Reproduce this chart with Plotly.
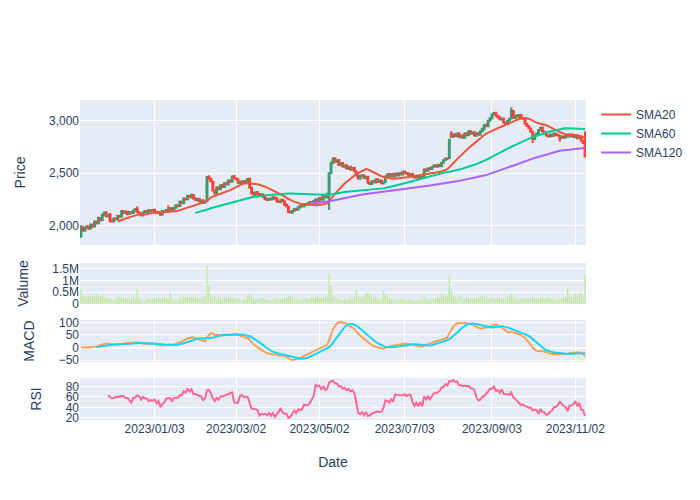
import pandas as pd
import plotly.graph_objects as go
from plotly.subplots import make_subplots

start_date = "2022-11-10"

open_ = [
    1900, 1988, 1952, 1980, 1993, 1972, 2008, 1993, 2037, 2023, 2072, 2053, 2102, 2128, 2088,
    2105, 2048, 2043, 2068, 2062, 2092, 2088, 2137, 2122, 2133, 2112, 2128, 2122, 2143, 2162, 2128, 2117, 2098, 2127, 2138, 2127, 2148,
    2142, 2152, 2133, 2122, 2128, 2107, 2138, 2132, 2148, 2137, 2168, 2143, 2172, 2193, 2187, 2228, 2217, 2258, 2252, 2283, 2272, 2293,
    2262, 2243, 2257, 2228, 2242, 2218, 2232, 2462, 2448, 2422, 2338, 2308, 2367, 2348, 2387, 2368, 2407, 2393, 2432, 2418,
    2473, 2453, 2442, 2408, 2422, 2403, 2427, 2413, 2447, 2362, 2312, 2293, 2322, 2303, 2292, 2298, 2272, 2253, 2247, 2258, 2252, 2268, 2262,
    2232, 2223, 2247, 2233, 2202, 2183, 2132, 2123, 2142, 2158, 2152, 2173, 2192, 2183, 2207, 2198, 2217, 2223, 2222, 2233,
    2252, 2238, 2267, 2248, 2287, 2268, 2310, 2505, 2598, 2643, 2608, 2627, 2578, 2597, 2563, 2577, 2543, 2562, 2533, 2552, 2518, 2478, 2448,
    2473, 2482, 2453, 2467, 2408, 2398, 2427, 2413, 2442, 2418, 2432, 2403, 2417, 2468, 2492, 2473, 2492, 2468, 2497, 2478, 2502, 2488,
    2517, 2503, 2497, 2478, 2492, 2468, 2462, 2472, 2453, 2472, 2468, 2537, 2523, 2547, 2538, 2562, 2577, 2563, 2582, 2568, 2602,
    2627, 2642, 2645, 2875, 2848, 2872, 2853, 2882, 2843, 2862, 2838, 2882, 2863, 2902, 2878, 2892, 2858, 2882, 2868, 2902, 2923, 2962, 2948,
    3003, 3023, 3062, 3077, 3048, 3037, 3013, 3022, 2983, 2977, 3002, 3022, 3095, 3028, 3052, 3038, 3057, 3028, 3022, 2973, 2952,
    2928, 2897, 2828, 2867, 2878, 2912, 2937, 2898, 2887, 2858, 2852, 2868, 2857, 2878, 2867, 2858, 2837, 2848, 2842, 2858, 2852, 2868,
    2857, 2843, 2862, 2833, 2852, 2808, 2830,
]

high = [
    2005, 1998, 1988, 2005, 2000, 2020, 2015, 2048, 2045, 2082, 2080, 2112, 2135, 2135, 2108,
    2120, 2058, 2078, 2075, 2102, 2100, 2148, 2145, 2142, 2140, 2138, 2135, 2152, 2168, 2185, 2135, 2122, 2132, 2148, 2145, 2158, 2155,
    2158, 2160, 2140, 2138, 2135, 2148, 2145, 2158, 2195, 2172, 2175, 2178, 2202, 2200, 2238, 2235, 2268, 2265, 2292, 2290, 2302, 2300,
    2270, 2262, 2265, 2248, 2250, 2238, 2475, 2480, 2458, 2430, 2345, 2372, 2375, 2392, 2395, 2412, 2415, 2438, 2440, 2478,
    2482, 2460, 2450, 2428, 2430, 2432, 2435, 2452, 2455, 2370, 2318, 2328, 2330, 2310, 2308, 2305, 2280, 2260, 2268, 2265, 2278, 2275, 2268,
    2240, 2252, 2255, 2240, 2210, 2190, 2140, 2148, 2168, 2165, 2182, 2198, 2200, 2212, 2214, 2222, 2232, 2230, 2242, 2258,
    2260, 2272, 2275, 2292, 2294, 2312, 2510, 2610, 2650, 2652, 2632, 2634, 2602, 2604, 2582, 2584, 2567, 2569, 2557, 2559, 2525, 2485, 2482,
    2488, 2490, 2472, 2474, 2415, 2432, 2434, 2448, 2450, 2437, 2440, 2422, 2478, 2498, 2500, 2497, 2499, 2502, 2504, 2508, 2510, 2522,
    2524, 2510, 2504, 2497, 2499, 2475, 2477, 2479, 2477, 2479, 2542, 2544, 2552, 2554, 2567, 2582, 2584, 2587, 2589, 2607, 2632,
    2648, 2650, 2830, 2900, 2878, 2880, 2888, 2890, 2868, 2870, 2888, 2890, 2908, 2910, 2898, 2900, 2888, 2890, 2908, 2932, 2968, 2970, 3008,
    3032, 3068, 3085, 3084, 3055, 3044, 3028, 3030, 2990, 3008, 3028, 3130, 3104, 3058, 3060, 3063, 3064, 3036, 3030, 2980, 2958,
    2935, 2904, 2872, 2887, 2917, 2944, 2945, 2905, 2894, 2865, 2877, 2875, 2887, 2885, 2874, 2865, 2857, 2855, 2867, 2865, 2877, 2875,
    2864, 2867, 2869, 2857, 2859, 2815, 2900,
]

low = [
    1885, 1948, 1945, 1972, 1962, 1965, 1982, 1985, 2012, 2018, 2042, 2048, 2095, 2082, 2080,
    2030, 2032, 2036, 2052, 2055, 2078, 2082, 2112, 2115, 2102, 2105, 2112, 2115, 2136, 2122, 2108, 2092, 2090, 2120, 2118, 2120, 2132,
    2135, 2128, 2112, 2115, 2098, 2100, 2122, 2125, 2128, 2130, 2138, 2136, 2165, 2178, 2180, 2208, 2210, 2242, 2245, 2262, 2265, 2252,
    2238, 2236, 2222, 2220, 2212, 2210, 2225, 2438, 2415, 2325, 2298, 2300, 2342, 2340, 2362, 2360, 2388, 2386, 2412, 2410,
    2448, 2432, 2402, 2400, 2396, 2396, 2408, 2406, 2355, 2300, 2285, 2286, 2296, 2282, 2285, 2262, 2248, 2238, 2240, 2242, 2245, 2252, 2222,
    2218, 2215, 2228, 2192, 2178, 2122, 2115, 2116, 2135, 2142, 2145, 2166, 2178, 2176, 2192, 2190, 2210, 2212, 2215, 2226,
    2232, 2230, 2242, 2240, 2262, 2260, 2150, 2492, 2590, 2600, 2600, 2572, 2570, 2556, 2556, 2536, 2536, 2528, 2526, 2512, 2470, 2440, 2440,
    2466, 2448, 2446, 2400, 2385, 2390, 2408, 2406, 2412, 2410, 2398, 2396, 2410, 2460, 2468, 2466, 2462, 2460, 2472, 2470, 2482, 2480,
    2498, 2488, 2472, 2471, 2462, 2452, 2455, 2447, 2446, 2458, 2460, 2518, 2516, 2532, 2531, 2555, 2558, 2556, 2562, 2561, 2594,
    2620, 2628, 2638, 2840, 2840, 2846, 2846, 2836, 2836, 2830, 2830, 2856, 2856, 2872, 2870, 2850, 2850, 2862, 2860, 2895, 2916, 2942, 2940,
    2996, 3016, 3055, 3042, 3028, 3008, 3006, 2976, 2966, 2970, 2995, 3015, 3022, 3021, 3032, 3031, 3022, 3012, 2966, 2942, 2922,
    2887, 2790, 2820, 2860, 2870, 2905, 2892, 2877, 2852, 2842, 2845, 2848, 2850, 2858, 2852, 2800, 2830, 2832, 2835, 2842, 2845, 2848,
    2838, 2836, 2828, 2826, 2802, 2782, 2650,
]

close = [
    1985, 1955, 1978, 1995, 1970, 2010, 1990, 2040, 2020, 2075, 2050, 2105, 2125, 2090, 2100,
    2050, 2040, 2070, 2060, 2095, 2085, 2140, 2120, 2135, 2110, 2130, 2120, 2145, 2160, 2130, 2115, 2100, 2125, 2140, 2125, 2150, 2140,
    2150, 2135, 2120, 2130, 2105, 2140, 2130, 2150, 2135, 2165, 2145, 2170, 2195, 2185, 2230, 2215, 2260, 2250, 2285, 2270, 2295, 2260,
    2245, 2255, 2230, 2240, 2220, 2230, 2460, 2450, 2425, 2335, 2310, 2365, 2350, 2385, 2370, 2405, 2395, 2430, 2420, 2470,
    2455, 2440, 2410, 2420, 2405, 2425, 2415, 2445, 2365, 2310, 2295, 2320, 2305, 2290, 2300, 2270, 2255, 2245, 2260, 2250, 2270, 2260, 2230,
    2225, 2245, 2235, 2200, 2185, 2130, 2125, 2140, 2160, 2150, 2175, 2190, 2185, 2205, 2200, 2215, 2225, 2220, 2235, 2250,
    2240, 2265, 2250, 2285, 2270, 2305, 2500, 2600, 2640, 2610, 2625, 2580, 2595, 2565, 2575, 2545, 2560, 2535, 2550, 2520, 2480, 2450, 2475,
    2480, 2455, 2465, 2410, 2400, 2425, 2415, 2440, 2420, 2430, 2405, 2415, 2470, 2490, 2475, 2490, 2470, 2495, 2480, 2500, 2490, 2515,
    2505, 2495, 2480, 2490, 2470, 2460, 2470, 2455, 2470, 2465, 2535, 2525, 2545, 2540, 2560, 2575, 2565, 2580, 2570, 2600, 2625,
    2640, 2635, 2820, 2850, 2870, 2855, 2880, 2845, 2860, 2840, 2880, 2865, 2900, 2880, 2890, 2860, 2880, 2870, 2900, 2925, 2960, 2950, 3000,
    3025, 3060, 3075, 3050, 3035, 3015, 3020, 2985, 2975, 3000, 3020, 3100, 3030, 3050, 3040, 3055, 3030, 3020, 2975, 2950, 2930,
    2895, 2830, 2865, 2880, 2910, 2935, 2900, 2885, 2860, 2850, 2870, 2855, 2880, 2865, 2860, 2835, 2850, 2840, 2860, 2850, 2870, 2855,
    2845, 2860, 2835, 2850, 2810, 2790, 2665,
]

volume = [
    600000, 400000, 320000, 300000, 350000, 330000, 310000, 380000, 400000, 300000, 330000, 360000, 300000, 280000, 250000,
    230000, 200000, 180000, 250000, 320000, 280000, 300000, 220000, 250000, 200000, 180000, 240000, 300000, 230000, 650000, 250000, 200000, 180000, 150000, 220000, 250000, 200000,
    180000, 240000, 220000, 280000, 200000, 250000, 300000, 230000, 200000, 480000, 250000, 120000, 200000, 180000, 300000, 250000, 350000, 280000, 300000, 270000, 320000, 280000,
    300000, 250000, 200000, 230000, 280000, 350000, 1650000, 800000, 400000, 250000, 350000, 200000, 280000, 230000, 200000, 300000, 250000, 280000, 220000, 300000,
    250000, 200000, 230000, 180000, 150000, 200000, 220000, 350000, 420000, 300000, 250000, 180000, 200000, 220000, 250000, 280000, 230000, 200000, 180000, 150000, 200000, 250000, 230000,
    200000, 180000, 220000, 250000, 280000, 300000, 350000, 300000, 250000, 220000, 200000, 180000, 230000, 250000, 280000, 200000, 230000, 300000, 250000, 280000,
    300000, 220000, 250000, 280000, 300000, 350000, 1300000, 800000, 350000, 300000, 250000, 230000, 200000, 180000, 220000, 200000, 180000, 250000, 230000, 300000, 550000, 300000, 250000,
    250000, 300000, 450000, 500000, 400000, 250000, 280000, 300000, 250000, 200000, 220000, 550000, 400000, 300000, 250000, 220000, 180000, 200000, 150000, 180000, 220000, 200000,
    180000, 150000, 200000, 180000, 170000, 150000, 160000, 150000, 200000, 180000, 350000, 250000, 200000, 180000, 230000, 200000, 250000, 300000, 250000, 450000, 350000,
    300000, 350000, 1200000, 550000, 350000, 300000, 250000, 300000, 350000, 280000, 250000, 300000, 220000, 200000, 230000, 250000, 280000, 250000, 300000, 380000, 300000, 250000, 230000,
    250000, 280000, 220000, 200000, 250000, 230000, 200000, 220000, 250000, 300000, 280000, 450000, 350000, 250000, 230000, 200000, 250000, 220000, 280000, 250000, 230000,
    250000, 320000, 250000, 230000, 200000, 250000, 280000, 230000, 250000, 300000, 250000, 220000, 200000, 180000, 200000, 250000, 230000, 300000, 280000, 650000, 300000, 280000,
    300000, 450000, 350000, 450000, 480000, 350000, 1250000,
]

# tick positions (the 2023/09/03 label sits where the weekend break ends)
tick_dates = ["2023-01-03", "2023-03-02", "2023-05-02", "2023-07-03", "2023-09-04", "2023-11-02"]
tick_labels = ["2023/01/03", "2023/03/02", "2023/05/02", "2023/07/03", "2023/09/03", "2023/11/02"]
sma_windows = [20, 60, 120]
sma_colors = ["#EF553B", "#00CC96", "#AB63FA"]

n = len(close)
assert len(open_) == n and len(high) == n and len(low) == n and len(volume) == n

dates = pd.bdate_range(start_date, periods=n)
s = pd.Series(close, index=dates, dtype=float)

ema12 = s.ewm(span=12).mean()
ema26 = s.ewm(span=26).mean()
macd = ema12 - ema26
signal = macd.rolling(9).mean()
delta = s.diff()
gain = delta.clip(lower=0).rolling(14).mean()
loss = (-delta.clip(upper=0)).rolling(14).mean()
rsi = 100 - 100 / (1 + gain / loss)

fig = make_subplots(rows=4, cols=1, shared_xaxes=True, vertical_spacing=0.05,
                    row_heights=[0.7, 0.2, 0.2, 0.2])

fig.add_trace(go.Candlestick(x=dates, open=open_, high=high, low=low, close=close,
                             increasing_line_color="#3D9970", decreasing_line_color="#FF4136",
                             showlegend=False, name="Price"), row=1, col=1)
for w, c in zip(sma_windows, sma_colors):
    fig.add_trace(go.Scatter(x=dates, y=s.rolling(w).mean(), mode="lines", name=f"SMA{w}",
                             line=dict(color=c, width=2)), row=1, col=1)

fig.add_trace(go.Bar(x=dates, y=volume, marker_color="#B6E880", showlegend=False, name="Volume"),
              row=2, col=1)
fig.add_trace(go.Scatter(x=dates, y=macd, mode="lines", line=dict(color="#FFA15A", width=2),
                         showlegend=False, name="MACD"), row=3, col=1)
fig.add_trace(go.Scatter(x=dates, y=signal, mode="lines", line=dict(color="#19D3F3", width=2),
                         showlegend=False, name="Signal"), row=3, col=1)
fig.add_trace(go.Scatter(x=dates, y=rsi, mode="lines", line=dict(color="#FF6692", width=2),
                         showlegend=False, name="RSI"), row=4, col=1)

fig.update_layout(
    width=700, height=500,
    font=dict(family="Liberation Sans, Arial, sans-serif"),
    xaxis_rangeslider_visible=False,
    margin=dict(l=80, t=100, b=80),
    yaxis=dict(domain=[0.547, 1.0], title_text="Price", tickformat=","),
    yaxis2=dict(domain=[0.3625, 0.4906], title_text="Valume"),
    yaxis3=dict(domain=[0.18125, 0.3125], title_text="MACD"),
    yaxis4=dict(domain=[0.0, 0.13125], title_text="RSI"),
)
fig.update_yaxes(title_standoff=20)
fig.update_xaxes(tickvals=tick_dates, ticktext=tick_labels,
                 rangebreaks=[dict(bounds=["sat", "mon"])])
fig.update_xaxes(title_text="Date", title_standoff=22, row=4, col=1)

fig.write_html("out.html", config={"displayModeBar": False},
               post_script="document.body.style.margin='0px';")
